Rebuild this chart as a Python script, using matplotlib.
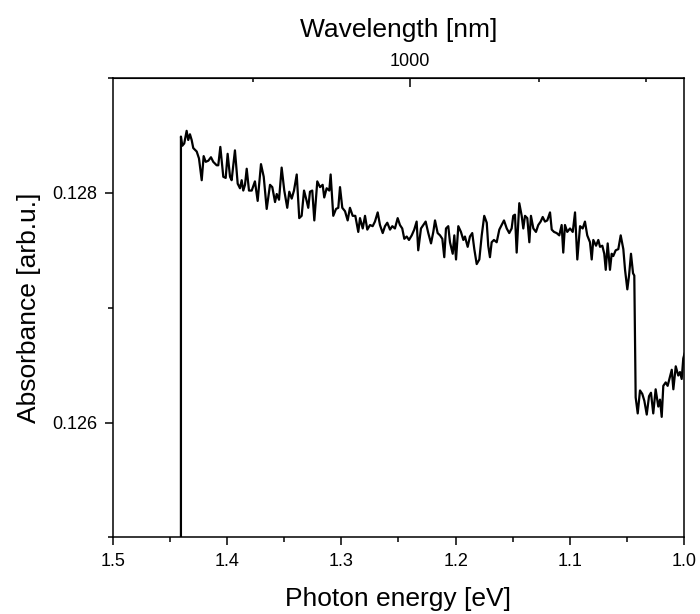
import numpy as np
import matplotlib
matplotlib.use('Agg')
import matplotlib.pyplot as plt
from matplotlib.ticker import MultipleLocator, FixedLocator

plt.rcParams['font.family'] = ['Liberation Sans', 'DejaVu Sans']

# photon energy [eV] and absorbance [arb.u.]
energy = [1.4405, 1.4405, 1.4393, 1.4376, 1.4355, 1.4341, 1.4326, 1.4311, 1.4297, 1.4267, 1.4247,
          1.4223, 1.4206, 1.4188, 1.4165, 1.4142, 1.4122, 1.4092, 1.4078, 1.4060, 1.4034,
          1.4013, 1.3996, 1.3975, 1.3961, 1.3932, 1.3908, 1.3888, 1.3873, 1.3859, 1.3844,
          1.3829, 1.3809, 1.3785, 1.3757, 1.3733, 1.3704, 1.3680, 1.3654, 1.3625, 1.3605,
          1.3581, 1.3566, 1.3546, 1.3523, 1.3500, 1.3474, 1.3456, 1.3435, 1.3415, 1.3391,
          1.3369, 1.3348, 1.3327, 1.3304, 1.3290, 1.3275, 1.3255, 1.3237, 1.3211, 1.3187,
          1.3164, 1.3150, 1.3129, 1.3106, 1.3094, 1.3071, 1.3047, 1.3027, 1.3012, 1.2992,
          1.2968, 1.2945, 1.2925, 1.2901, 1.2878, 1.2852, 1.2837, 1.2813, 1.2793, 1.2773,
          1.2749, 1.2726, 1.2706, 1.2682, 1.2662, 1.2638, 1.2618, 1.2598, 1.2574, 1.2554,
          1.2531, 1.2507, 1.2487, 1.2467, 1.2449, 1.2428, 1.2408, 1.2384, 1.2362, 1.2341,
          1.2327, 1.2303, 1.2283, 1.2262, 1.2239, 1.2215, 1.2195, 1.2180, 1.2157, 1.2136,
          1.2116, 1.2099, 1.2084, 1.2064, 1.2049, 1.2025, 1.2011, 1.1996, 1.1976, 1.1953,
          1.1932, 1.1918, 1.1894, 1.1874, 1.1854, 1.1836, 1.1815, 1.1792, 1.1771, 1.1749,
          1.1727, 1.1714, 1.1699, 1.1684, 1.1664, 1.1640, 1.1617, 1.1596, 1.1576, 1.1552,
          1.1530, 1.1509, 1.1495, 1.1480, 1.1465, 1.1442, 1.1421, 1.1407, 1.1392, 1.1372,
          1.1354, 1.1340, 1.1319, 1.1296, 1.1276, 1.1255, 1.1237, 1.1217, 1.1197, 1.1173,
          1.1158, 1.1138, 1.1115, 1.1092, 1.1071, 1.1057, 1.1042, 1.1022, 1.0998, 1.0974,
          1.0954, 1.0934, 1.0910, 1.0887, 1.0867, 1.0847, 1.0823, 1.0808, 1.0794, 1.0770,
          1.0750, 1.0735, 1.0715, 1.0698, 1.0685, 1.0668, 1.0648, 1.0633, 1.0619, 1.0598,
          1.0575, 1.0554, 1.0531, 1.0516, 1.0496, 1.0481, 1.0464, 1.0446, 1.0435, 1.0423,
          1.0405, 1.0385, 1.0365, 1.0347, 1.0326, 1.0306, 1.0289, 1.0269, 1.0248, 1.0225,
          1.0210, 1.0195, 1.0181, 1.0160, 1.0143, 1.0122, 1.0107, 1.0093, 1.0072, 1.0050,
          1.0035, 1.0020, 1.0006, 0.9995]
absorbance = [0.12450, 0.12849, 0.12841, 0.12843, 0.12854, 0.12846, 0.12851, 0.12846, 0.12839, 0.12836, 0.12830,
              0.12811, 0.12832, 0.12827, 0.12828, 0.12831, 0.12827, 0.12824, 0.12824, 0.12840, 0.12814,
              0.12813, 0.12834, 0.12814, 0.12811, 0.12837, 0.12808, 0.12804, 0.12811, 0.12802, 0.12807,
              0.12821, 0.12802, 0.12802, 0.12810, 0.12793, 0.12825, 0.12814, 0.12786, 0.12807, 0.12805,
              0.12792, 0.12799, 0.12794, 0.12822, 0.12802, 0.12787, 0.12801, 0.12795, 0.12802, 0.12816,
              0.12778, 0.12780, 0.12802, 0.12793, 0.12787, 0.12801, 0.12802, 0.12776, 0.12810, 0.12805,
              0.12807, 0.12796, 0.12804, 0.12802, 0.12816, 0.12780, 0.12786, 0.12787, 0.12805, 0.12787,
              0.12784, 0.12776, 0.12787, 0.12780, 0.12780, 0.12766, 0.12778, 0.12769, 0.12780, 0.12768,
              0.12772, 0.12771, 0.12775, 0.12783, 0.12772, 0.12765, 0.12771, 0.12774, 0.12768, 0.12771,
              0.12769, 0.12778, 0.12772, 0.12769, 0.12760, 0.12762, 0.12759, 0.12763, 0.12768, 0.12775,
              0.12750, 0.12769, 0.12772, 0.12775, 0.12765, 0.12756, 0.12766, 0.12776, 0.12765, 0.12763,
              0.12760, 0.12744, 0.12769, 0.12771, 0.12757, 0.12747, 0.12763, 0.12742, 0.12771, 0.12766,
              0.12759, 0.12762, 0.12753, 0.12762, 0.12765, 0.12751, 0.12738, 0.12742, 0.12763, 0.12780,
              0.12774, 0.12754, 0.12744, 0.12757, 0.12759, 0.12757, 0.12768, 0.12772, 0.12776, 0.12769,
              0.12765, 0.12769, 0.12780, 0.12781, 0.12748, 0.12791, 0.12780, 0.12769, 0.12780, 0.12778,
              0.12757, 0.12780, 0.12769, 0.12766, 0.12772, 0.12775, 0.12779, 0.12775, 0.12776, 0.12783,
              0.12768, 0.12766, 0.12765, 0.12763, 0.12772, 0.12748, 0.12772, 0.12766, 0.12769, 0.12766,
              0.12783, 0.12742, 0.12771, 0.12769, 0.12775, 0.12763, 0.12757, 0.12742, 0.12759, 0.12754,
              0.12759, 0.12753, 0.12754, 0.12747, 0.12733, 0.12756, 0.12733, 0.12747, 0.12745, 0.12750,
              0.12751, 0.12763, 0.12751, 0.12733, 0.12716, 0.12728, 0.12747, 0.12730, 0.12728, 0.12622,
              0.12608, 0.12628, 0.12625, 0.12619, 0.12607, 0.12623, 0.12626, 0.12608, 0.12629, 0.12614,
              0.12620, 0.12605, 0.12632, 0.12635, 0.12632, 0.12640, 0.12646, 0.12629, 0.12649, 0.12641,
              0.12644, 0.12638, 0.12656, 0.12660]

wl_major = [1000]
wl_minor = [900, 1100, 1200]
HC = 1239.84


def e_to_wl(e):
    e = np.asarray(e, dtype=float)
    with np.errstate(divide='ignore', invalid='ignore'):
        return np.where(e != 0, HC / e, np.inf)


fig = plt.figure(figsize=(7, 6.14), dpi=100)
ax = fig.add_axes([0.1614, 0.1246, 0.8157, 0.7484])
ax.plot(energy, absorbance, color='black', lw=1.6)

ax.set_xlim(1.5, 1.0)
ax.set_ylim(0.125, 0.129)
ax.xaxis.set_major_locator(MultipleLocator(0.1))
ax.xaxis.set_minor_locator(MultipleLocator(0.05))
ax.yaxis.set_major_locator(MultipleLocator(0.002))
ax.yaxis.set_minor_locator(MultipleLocator(0.001))
ax.xaxis.set_major_formatter(plt.FormatStrFormatter('%.1f'))
ax.yaxis.set_major_formatter(plt.FormatStrFormatter('%.3f'))
ax.tick_params(which='major', direction='out', length=6, width=1.1, labelsize=13, pad=5.5)
ax.tick_params(which='minor', direction='out', length=3.5, width=1.1)
for s in ax.spines.values():
    s.set_linewidth(1.1)

ax.set_xlabel('Photon energy [eV]', fontsize=19, labelpad=12)
ax.set_ylabel('Absorbance [arb.u.]', fontsize=19, labelpad=8)

sec = ax.secondary_xaxis('top', functions=(e_to_wl, e_to_wl))
sec.xaxis.set_major_locator(FixedLocator(wl_major))
sec.xaxis.set_minor_locator(FixedLocator(wl_minor))
sec.tick_params(which='major', direction='in', length=6.5, width=1.1, labelsize=13, pad=5.5)
sec.tick_params(which='minor', direction='in', length=3, width=1.1)
sec.set_xlabel('Wavelength [nm]', fontsize=19, labelpad=12)

fig.savefig('out.png', dpi=100)
